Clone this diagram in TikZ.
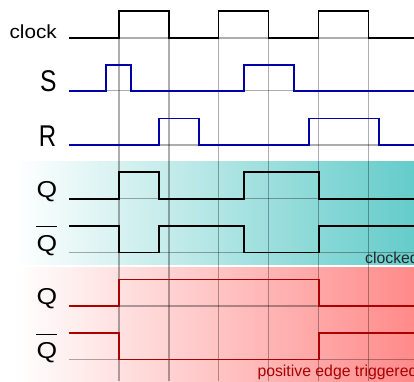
\documentclass[tikz,border=0pt]{standalone}
\usepackage{fontspec}
\setmainfont{Liberation Sans}
\definecolor{sigblue}{RGB}{0,0,170}
\definecolor{sigred}{RGB}{170,0,0}
\definecolor{tealbg}{RGB}{100,204,202}
\definecolor{redbg}{RGB}{255,138,138}
\begin{document}
\begin{tikzpicture}[x=1pt,y=-1pt,
  gridline/.style={draw=black,opacity=0.32,line width=1.15pt},
  sig/.style={line width=1.6pt,line join=miter},
  lbl/.style={inner sep=0pt,anchor=base east},
  big/.style={font=\fontsize{30}{34}\selectfont},
  mid/.style={font=\fontsize{23}{27}\selectfont},
  note/.style={inner sep=0pt,anchor=base west,font=\fontsize{15.8}{18}\selectfont},
  barline/.style={line width=1pt}]
\useasboundingbox (0,0) rectangle (414,381);
\clip (0,0) rectangle (414,381);
% backgrounds
\shade[left color=white,right color=tealbg] (15,161) rectangle (414,264.3);
\shade[left color=white,right color=redbg] (15,267.3) rectangle (414,381);
% grid
\foreach \x in {119,169,218.5,268.5,318.5,368.5} \draw[gridline] (\x,11) -- (\x,381);
\foreach \y in {38,90.7,145,198.7,252.3,306,359.3} \draw[gridline] (69,\y) -- (414,\y);
% signals
\draw[sig,black] (69,38) -- (119,38) -- (119,11) -- (169,11) -- (169,38) -- (218.5,38) -- (218.5,11) -- (268.5,11) -- (268.5,38) -- (318.5,38) -- (318.5,11) -- (368.5,11) -- (368.5,38) -- (416,38);
\draw[sig,sigblue] (69,90.7) -- (106,90.7) -- (106,65) -- (131,65) -- (131,90.7) -- (243.7,90.7) -- (243.7,65) -- (293.7,65) -- (293.7,90.7) -- (416,90.7);
\draw[sig,sigblue] (69,145) -- (158.7,145) -- (158.7,118.3) -- (199,118.3) -- (199,145) -- (308.7,145) -- (308.7,118.3) -- (378.7,118.3) -- (378.7,145) -- (416,145);
\draw[sig,black] (69,198.7) -- (119,198.7) -- (119,172) -- (158.7,172) -- (158.7,198.7) -- (243.7,198.7) -- (243.7,172) -- (318.7,172) -- (318.7,198.7) -- (416,198.7);
\draw[sig,black] (69,225.7) -- (119,225.7) -- (119,252.3) -- (158.7,252.3) -- (158.7,225.7) -- (243.7,225.7) -- (243.7,252.3) -- (318.7,252.3) -- (318.7,225.7) -- (416,225.7);
\draw[sig,sigred] (69,306) -- (119,306) -- (119,279.3) -- (318.7,279.3) -- (318.7,306) -- (416,306);
\draw[sig,sigred] (69,332.7) -- (119,332.7) -- (119,359.3) -- (318.7,359.3) -- (318.7,332.7) -- (416,332.7);
% labels
\node[lbl,font=\fontsize{19}{22}\selectfont] (clk) at (57,38) {\scalebox{1.09}[1]{clock}};
\node[lbl,big] (s) at (56.7,91.5) {\scalebox{0.82}[1]{S}};
\node[lbl,big] (r) at (56.3,146.5) {\scalebox{0.8}[1]{R}};
\node[lbl,mid] (q1) at (57.3,197.6) {\scalebox{1.15}[1]{Q}};
\node[lbl,mid] (qb1) at (57.3,251.2) {\scalebox{1.15}[1]{Q}};
\draw[barline] ([yshift=8pt]qb1.north west) -- ([yshift=8pt]qb1.north east);
\node[lbl,mid] (q2) at (57.3,304.5) {\scalebox{1.15}[1]{Q}};
\node[lbl,mid] (qb2) at (57.3,358.5) {\scalebox{1.15}[1]{Q}};
\draw[barline] ([yshift=8pt]qb2.north west) -- ([yshift=8pt]qb2.north east);
\node[note,text=black!85] (clocked) at (365,263.3) {clocked};
\node[note,text=sigred] (pet) at (257.3,376.7) {positive edge triggered};
\end{tikzpicture}
\end{document}
